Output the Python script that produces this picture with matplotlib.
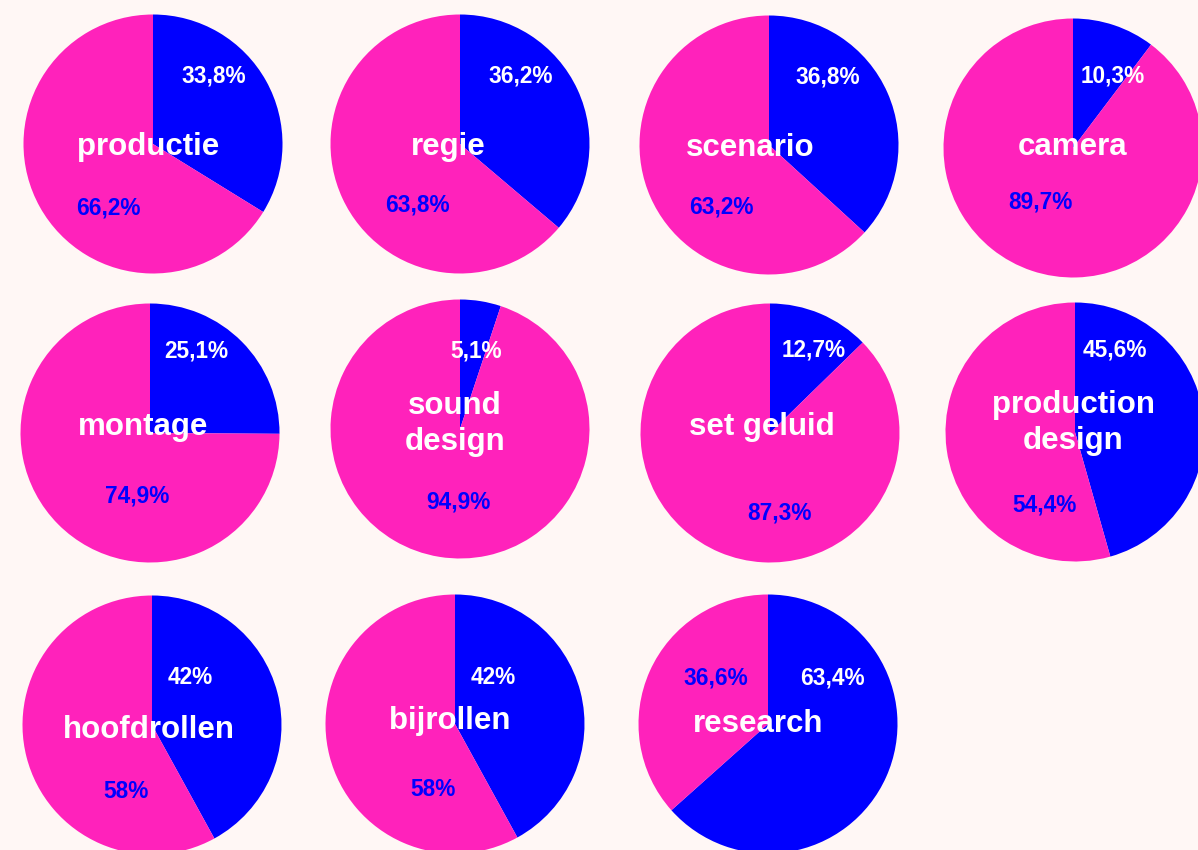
import matplotlib
matplotlib.use("Agg")
import matplotlib.pyplot as plt

# ---- data ----
categories = ["productie", "regie", "scenario", "camera",
              "montage", "sound\ndesign", "set geluid", "production\ndesign",
              "hoofdrollen", "bijrollen", "research"]
blue_share = [33.8, 36.2, 36.8, 10.3, 25.1, 5.1, 12.7, 45.6, 42, 42, 63.4]
pink_share = [66.2, 63.8, 63.2, 89.7, 74.9, 94.9, 87.3, 54.4, 58, 58, 36.6]

# ---- layout (pixel coordinates, y measured from top) ----
W, H = 1198, 850
centers = [(153, 144), (460, 144), (769, 145), (1073, 148),
           (150, 433), (460, 429), (770, 433), (1075, 432),
           (152, 725), (455, 724), (768, 724)]
radius = 129.5
name_off = [(-5, 0), (-12, 0), (-19, 0), (0, -4),
            (-7, -9), (-5, -8), (-8, -9), (-2, -12),
            (-3, 2), (-5, -6), (-10, -3)]
blue_lab_off = [(61, -71), (61, -71), (59, -71), (40, -75),
                (46, -85), (16, -81), (44, -86), (40, -85),
                (38, -50), (38, -50), (64, -49)]
pink_lab_off = [(-45, 61), (-43, 58), (-48, 59), (-33, 51),
                (-13, 60), (-2, 70), (9, 77), (-30, 70),
                (-26, 64), (-22, 63), (-52, -49)]
text_shift = 3  # px downward

BG = "#FFF7F5"
BLUE = "#0000FF"
PINK = "#FF22BB"
FONT = "Liberation Sans"


def fmt(v):
    if float(v).is_integer():
        return f"{int(v)}%"
    return f"{v:.1f}%".replace(".", ",")


fig = plt.figure(figsize=(W / 100, H / 100), dpi=100, facecolor=BG)
ax = fig.add_axes([0, 0, 1, 1])
ax.set_facecolor(BG)

for i, cat in enumerate(categories):
    cx, cy = centers[i]
    cyy = H - cy
    ax.pie([blue_share[i], pink_share[i]], colors=[BLUE, PINK],
           startangle=90, counterclock=False,
           center=(cx, cyy), radius=radius,
           wedgeprops=dict(linewidth=0, antialiased=True))
    bx, by = blue_lab_off[i]
    ax.text(cx + bx, cyy - by - text_shift, fmt(blue_share[i]), color="white",
            ha="center", va="center", fontsize=16.3, fontweight="bold",
            family=FONT)
    px, py = pink_lab_off[i]
    ax.text(cx + px, cyy - py - text_shift, fmt(pink_share[i]), color=BLUE,
            ha="center", va="center", fontsize=16.3, fontweight="bold",
            family=FONT)
    nx, ny = name_off[i]
    ax.text(cx + nx, cyy - ny - text_shift, cat, color="white", ha="center",
            va="center", fontsize=22.5, fontweight="bold", family=FONT,
            linespacing=1.22)

ax.set_xlim(0, W)
ax.set_ylim(0, H)
ax.set_aspect("equal")
ax.axis("off")

fig.savefig("out.png", dpi=100, facecolor=BG)
